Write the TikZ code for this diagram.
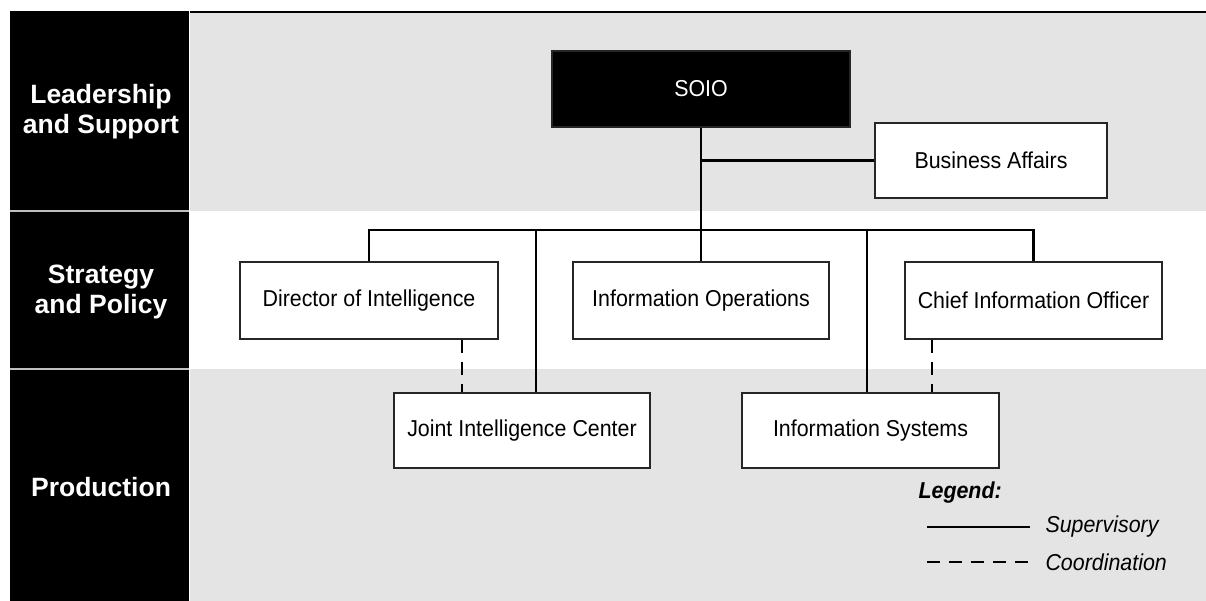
\documentclass[tikz,border=0pt]{standalone}
\usepackage{fontspec}
\setmainfont[FakeStretch=0.93]{Liberation Sans}
\newfontfamily\levelfont{Liberation Sans}
\usepackage{tikz}
\usetikzlibrary{positioning,calc}
\definecolor{bandgray}{HTML}{E4E4E4}
\tikzset{
	unit/.style = {draw=black!85, fill=white, rectangle, line width=1.4pt,
		minimum height=76pt, font=\fontsize{23}{27}\selectfont},
	head/.style = {unit, fill=black, text=white, minimum width=298pt},
	level/.style = {text=white, align=center, font=\levelfont\fontsize{26.5}{30}\selectfont\bfseries},
	superv/.style = {line width=2.4pt},
	coord/.style = {line width=2.4pt, dash pattern=on 13pt off 9pt},
	legendtext/.style = {anchor=west, font=\fontsize{23}{27}\selectfont\itshape}
}

\begin{document}
\begin{tikzpicture}[x=1pt,y=-1pt]
		\useasboundingbox (0,0) rectangle (1206,601);
		% bands
		\fill[bandgray] (190,13) rectangle (1206,211);
		\fill[bandgray] (190,369) rectangle (1206,601);
		\draw[line width=2pt] (190,12) -- (1206,12);
		\fill[black] (10,11) rectangle (189,601);
		\draw[white!75!black, line width=1.2pt] (10,211) -- (189,211);
		\draw[white!75!black, line width=1.2pt] (10,369) -- (189,369);
		\node[level] (lead) at (101,112) {Leadership\\and Support};
		\node[level] (strat) at (101,292) {Strategy\\and Policy};
		\node[level] (prod) at (101,487) {Production};

		% units
		\node[head] (soio) at (701,89) {SOIO};
		\node[unit, minimum width=232pt, minimum height=75pt] (biz) at (991,160.5) {Business Affairs};
		\node[unit, minimum width=258pt, minimum height=77pt] (dir) at (369,300.5) {Director of Intelligence};
		\node[unit, minimum width=256pt, minimum height=77pt] (iops) at (701,300.5) {Information Operations};
		\node[unit, minimum width=257pt, minimum height=77pt] (cio) at (1033.5,300.5) {Chief Information Officer};
		\node[unit, minimum width=256pt, minimum height=75pt] (jic) at (522,430.5) {Joint Intelligence Center};
		\node[unit, minimum width=257pt, minimum height=75pt] (isys) at (870.5,430.5) {Information Systems};
		\coordinate (bus) at (0,230);

		% supervisory lines
		\draw[superv] (soio.south) -- (iops.north);
		\draw[superv] (soio.south |- biz.west) -- (biz.west);
		\draw[superv] (dir.north) -- (dir.north |- bus) -- (cio.north |- bus) -- (cio.north);
		\draw[superv] ([xshift=14pt]jic.north) -- ([xshift=14pt]jic.north |- bus);
		\draw[superv] ([xshift=-3.5pt]isys.north) -- ([xshift=-3.5pt]isys.north |- bus);

		% coordination lines
		\draw[coord] ([xshift=93pt]dir.south) -- ([xshift=93pt]dir.south |- jic.north);
		\draw[coord] ([xshift=-101.5pt]cio.south) -- ([xshift=-101.5pt]cio.south |- isys.north);

		% legend
		\node[anchor=west, font=\fontsize{23}{27}\selectfont\bfseries\itshape] (legend) at (915,493) {Legend:};
		\coordinate (supA) at (927,527);
		\coordinate (supB) at (1030,527);
		\coordinate (cooA) at (927,562);
		\coordinate (cooB) at (1030,562);
		\draw[superv] (supA) -- (supB);
		\draw[coord] (cooA) -- (cooB);
		\node[legendtext] (suplab) at (1042,527) {Supervisory};
		\node[legendtext] (coolab) at (1042,562) {Coordination};
	\end{tikzpicture}
\end{document}
